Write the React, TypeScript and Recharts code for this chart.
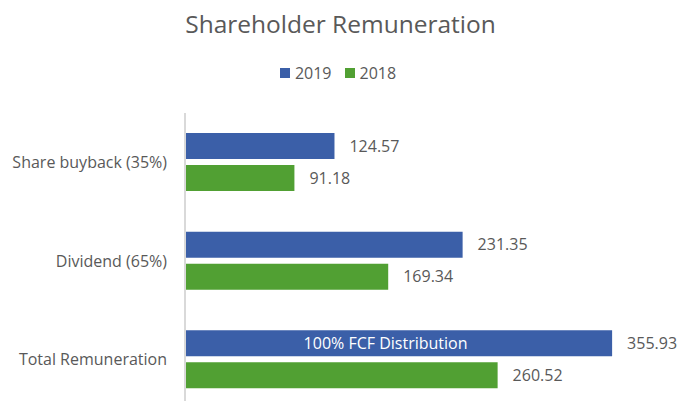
import { BarChart, Bar, XAxis, YAxis, Legend, LabelList } from 'recharts';

const categories = ['Share buyback (35%)', 'Dividend (65%)', 'Total Remuneration'];
const values2019 = [124.57, 231.35, 355.93];
const values2018 = [91.18, 169.34, 260.52];
const notes = ['', '', '100% FCF Distribution'];

const data = categories.map((name, i) => ({
    name,
    a2019: values2019[i],
    b2018: values2018[i],
    note: notes[i],
}));

const textColor = '#595959';

// white annotation drawn inside the 2019 "Total" bar
function NoteLabel(props: any) {
    const { x, y, width, height, value } = props;
    if (!value) return null;
    return (
        <text x={x + width / 2 - 13} y={y + height / 2} textAnchor="middle" dominantBaseline="central" fill="#ffffff" fontSize={16}>
            {value}
        </text>
    );
}

function LegendContent(props: any) {
    const items = props.payload || [];
    return (
        <div style={{ display: 'flex', justifyContent: 'center', alignItems: 'center', paddingLeft: 11, fontSize: 16, color: textColor }}>
            {items.map((item: any, i: number) => (
                <div key={item.value} style={{ display: 'flex', alignItems: 'center', marginLeft: i > 0 ? 13 : 0 }}>
                    <span style={{ display: 'inline-block', width: 10, height: 10, background: item.color, marginRight: 5 }} />
                    <span>{item.value}</span>
                </div>
            ))}
        </div>
    );
}

function App() {
    return (
        <div style={{ position: 'absolute', left: 0, top: 0, width: 681, height: 401, overflow: 'hidden', background: '#fff', fontFamily: '"Open Sans", sans-serif' }}>
            <div style={{ position: 'absolute', top: 7, left: 0, width: 681, textAlign: 'center', fontSize: 24.5, color: textColor, lineHeight: 'normal' }}>
                Shareholder Remuneration
            </div>
            <BarChart layout="vertical" width={681} height={420} data={data} margin={{ top: 91, right: 16, left: 0, bottom: 11 }} barSize={26} barGap={6}>
                <XAxis type="number" domain={[0, 400]} hide />
                <YAxis type="category" dataKey="name" width={185} tickLine={false} tickSize={0} tickMargin={18}
                    axisLine={{ stroke: '#d9d9d9', strokeWidth: 2 }} tick={{ fill: textColor, fontSize: 16 }} />
                <Legend verticalAlign="top" align="center" itemSorter="dataKey"
                    wrapperStyle={{ top: 62 }} content={LegendContent} />
                <Bar dataKey="a2019" name="2019" fill="#3b5fa8" isAnimationActive={false}>
                    <LabelList dataKey="a2019" position="right" offset={15} fill={textColor} fontSize={16} />
                    <LabelList dataKey="note" content={NoteLabel} />
                </Bar>
                <Bar dataKey="b2018" name="2018" fill="#51a033" isAnimationActive={false}>
                    <LabelList dataKey="b2018" position="right" offset={15} fill={textColor} fontSize={16} />
                </Bar>
            </BarChart>
        </div>
    );
}

export default App;
